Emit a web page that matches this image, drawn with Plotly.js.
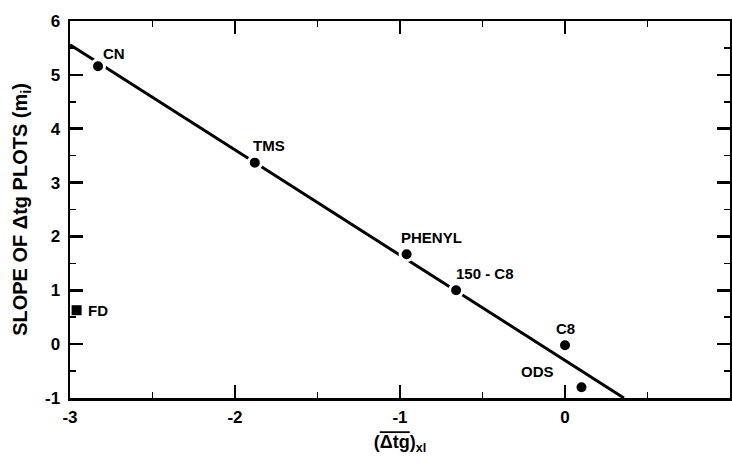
<!DOCTYPE html>
<html>
<head>
<meta charset="utf-8">
<script src="https://cdn.plot.ly/plotly-3.0.1.min.js"></script>
</head>
<body style="margin:0">
<div id="chart" style="width:732px;height:464px"></div>
<script>
// Stationary phases: mean Δtg (x) against slope of the Δtg plots (y)
const phases   = ['CN', 'TMS', 'PHENYL', '150 - C8', 'C8', 'ODS'];
const phaseX   = [-2.83, -1.88, -0.96, -0.66, 0.00, 0.10];
const phaseY   = [5.16, 3.37, 1.67, 1.00, -0.02, -0.80];

// Fluorinated phase, drawn as a square
const fdName   = ['FD'];
const fdX      = [-2.96];
const fdY      = [0.63];

// Fitted straight line through the bonded phases
const fitX     = [-3.0, 0.357];
const fitY     = [5.56, -1.0];

// Axis tick labels
const xTickVals = [-3, -2, -1, 0, 1];
const xTickText = ['-3', '-2', '-1', '0', '1'];
const yTickVals = [-1, 0, 1, 2, 3, 4, 5, 6];
const yTickText = ['-1', '0', '1', '2', '3', '4', '5', '6'];

const FONT = 'Liberation Sans, Arial, Helvetica, sans-serif';

// label placement around each marker
const labelStyle = {
  'CN':       {xanchor: 'left',   xshift: 3,   yshift: 13},
  'TMS':      {xanchor: 'left',   xshift: -4,  yshift: 17},
  'PHENYL':   {xanchor: 'left',   xshift: -8,  yshift: 17},
  '150 - C8': {xanchor: 'left',   xshift: -2,  yshift: 17},
  'C8':       {xanchor: 'center', xshift: 0,   yshift: 17},
  'ODS':      {xanchor: 'right',  xshift: -26, yshift: 16},
  'FD':       {xanchor: 'left',   xshift: 9,   yshift: 0}
};

const traces = [
  {x: fitX, y: fitY, type: 'scatter', mode: 'lines', line: {color: '#000', width: 3}},
  // white outline leaves a small gap in the line around each dot
  {x: phaseX, y: phaseY, type: 'scatter', mode: 'markers',
   marker: {color: '#000', size: 13, line: {color: '#fff', width: 3}}},
  {x: fdX, y: fdY, type: 'scatter', mode: 'markers',
   marker: {color: '#000', size: 10, symbol: 'square'}}
];

const labelFont = {family: FONT, size: 15, color: '#000'};
function pointLabels(names, xs, ys) {
  return names.map((name, i) => {
    const s = labelStyle[name];
    return {
      x: xs[i], y: ys[i], xref: 'x', yref: 'y', text: '<b>' + name + '</b>',
      showarrow: false, xanchor: s.xanchor, yanchor: 'middle',
      xshift: s.xshift, yshift: s.yshift, font: labelFont
    };
  });
}
const annotations = pointLabels(phases, phaseX, phaseY).concat(pointLabels(fdName, fdX, fdY));

function frameAxis(range, vals, text, tick0) {
  return {
    range: range, showgrid: false, zeroline: false,
    showline: true, linecolor: '#000', linewidth: 2.5, mirror: 'ticks',
    ticks: 'inside', ticklen: 13, tickwidth: 2.5, tickcolor: '#000',
    tickmode: 'array', tickvals: vals, ticktext: text,
    tickfont: {family: FONT, size: 17, color: '#000', weight: 'bold'},
    minor: {tickmode: 'linear', tick0: tick0, dtick: 0.5,
            ticks: 'inside', ticklen: 6, tickwidth: 1.5, tickcolor: '#000'}
  };
}

const xaxis = frameAxis([-3, 1], xTickVals, xTickText, -3);
xaxis.ticklabelstandoff = 2;
xaxis.title = {
  text: '<b>(<span style="text-decoration:overline">\u0394tg</span>)<sub>xl</sub></b>',
  font: {family: FONT, size: 18, color: '#000'},
  standoff: 10
};

const yaxis = frameAxis([-1, 6], yTickVals, yTickText, -1);
yaxis.ticklabelstandoff = 4;
yaxis.title = {
  text: '<b>SLOPE OF \u0394tg PLOTS (m<sub>i</sub>)</b>',
  font: {family: FONT, size: 20, color: '#000'},
  standoff: 12
};

const layout = {
  width: 732, height: 464,
  margin: {l: 70, r: 2, t: 21, b: 66},
  paper_bgcolor: '#fff', plot_bgcolor: '#fff',
  showlegend: false,
  xaxis: xaxis,
  yaxis: yaxis,
  annotations: annotations
};

Plotly.newPlot('chart', traces, layout, {displayModeBar: false, staticPlot: true});
</script>
</body>
</html>
